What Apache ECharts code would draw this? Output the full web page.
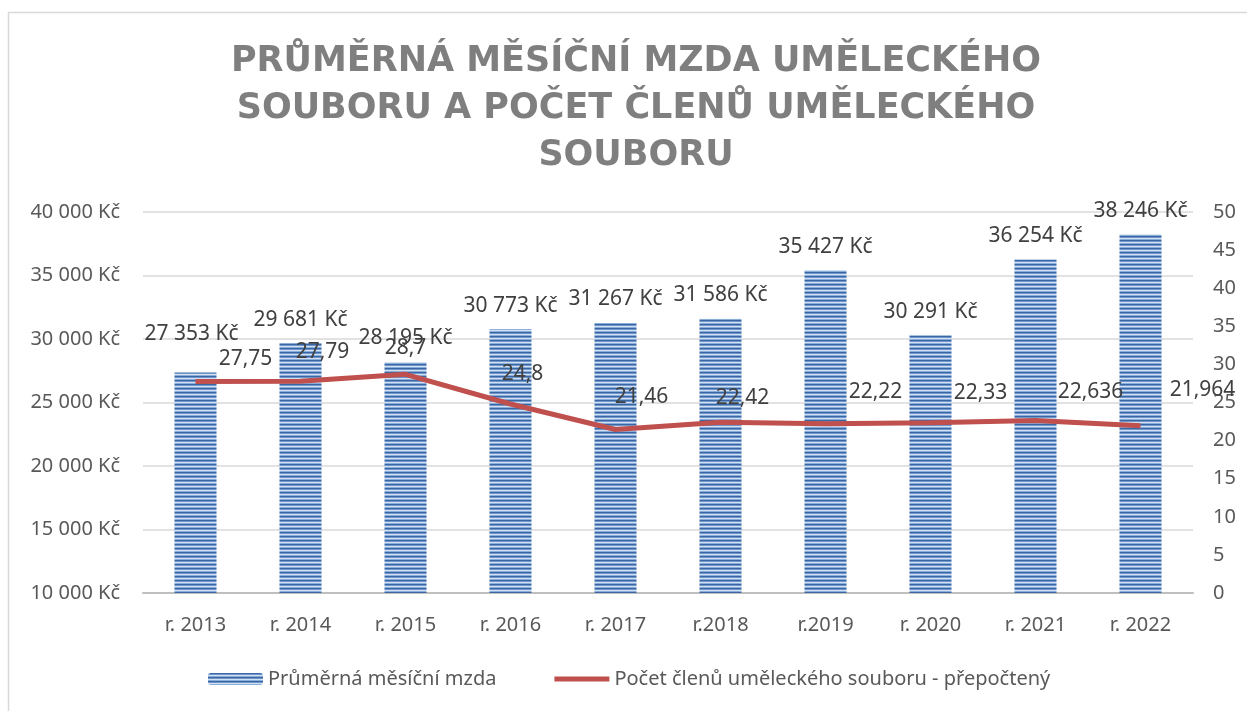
<!DOCTYPE html>
<html>
<head>
<meta charset="utf-8">
<style>
  html, body { margin: 0; padding: 0; background: #fff; }
  #chart { width: 1247px; height: 711px; }
</style>
<script src="https://cdn.jsdelivr.net/npm/echarts@6/dist/echarts.min.js"></script>
</head>
<body>
<div id="chart"></div>
<script>
// data
const years = ['r. 2013', 'r. 2014', 'r. 2015', 'r. 2016', 'r. 2017', 'r.2018', 'r.2019', 'r. 2020', 'r. 2021', 'r. 2022']
const wages = [27353, 29681, 28195, 30773, 31267, 31586, 35427, 30291, 36254, 38246]
const members = [27.75, 27.79, 28.7, 24.8, 21.46, 22.42, 22.22, 22.33, 22.636, 21.964]

// manual label placement (as moved in the original)
const memberLabelOffsets = [[50, -23], [22, -29], [0, -26], [12, -30], [26, -32], [22, -24], [50, -32], [50, -30], [55, -28], [62, -36]]
const wageLabelOffsets = [[-4, -15], [0, 0], [0, 0], [0, 0], [0, 0], [0, 0], [0, 0], [0, 0], [0, 0], [0, 0]]

const font = '"Noto Sans", "Open Sans", sans-serif'

// striped fill like the excel pattern
const pat = document.createElement('canvas')
pat.width = 4
pat.height = 4
const pctx = pat.getContext('2d')
const stripe = ['#3a67a4', '#6f96cb', '#d3e0f1', '#8badd9']
stripe.forEach((c, i) => { pctx.fillStyle = c; pctx.fillRect(0, i, 4, 1) })
const barColor = { image: pat, repeat: 'repeat' }

const kc = v => String(v).replace(/\B(?=(\d{3})+(?!\d))/g, ' ') + ' Kč'
const dec = v => String(v).replace('.', ',')

const chart = echarts.init(document.getElementById('chart'))

chart.setOption({
  animation: false,
  backgroundColor: '#fff',
  textStyle: { fontFamily: font },
  title: {
    text: 'PRŮMĚRNÁ MĚSÍČNÍ MZDA UMĚLECKÉHO\nSOUBORU A POČET ČLENŮ UMĚLECKÉHO\nSOUBORU',
    left: 631,
    top: 33,
    textAlign: 'center',
    textStyle: {
      fontFamily: '"DejaVu Sans", sans-serif',
      fontWeight: 'bold',
      fontSize: 35,
      lineHeight: 47,
      color: '#7f7f7f'
    }
  },
  graphic: [{
    type: 'rect',
    shape: { x: 8.5, y: 12.5, width: 1260, height: 720 },
    style: { fill: 'none', stroke: '#d9d9d9', lineWidth: 1.5 },
    silent: true
  }],
  legend: {
    left: 203,
    top: 664,
    itemGap: 58,
    itemWidth: 55,
    itemHeight: 12,
    textStyle: { fontSize: 20, color: '#595959', fontFamily: font },
    data: [
      { name: 'Průměrná měsíční mzda' },
      { name: 'Počet členů uměleckého souboru - přepočtený', icon: 'path://M0,0H55V5H0Z' }
    ]
  },
  grid: { left: 143, right: 54, top: 212, bottom: 118 },
  xAxis: {
    type: 'category',
    data: years,
    axisLine: { lineStyle: { color: '#bfbfbf', width: 2 } },
    axisTick: { show: false },
    axisLabel: { fontSize: 20, color: '#595959', margin: 22 }
  },
  yAxis: [{
    type: 'value',
    min: 10000,
    max: 40000,
    interval: 5000,
    axisLine: { show: false },
    axisTick: { show: false },
    splitLine: { lineStyle: { color: '#d9d9d9', width: 1.5 } },
    axisLabel: { fontSize: 20, color: '#595959', margin: 23, formatter: kc }
  }, {
    type: 'value',
    min: 0,
    max: 50,
    interval: 5,
    axisLine: { show: false },
    axisTick: { show: false },
    splitLine: { show: false },
    axisLabel: { fontSize: 20, color: '#595959', margin: 20 }
  }],
  series: [{
    name: 'Průměrná měsíční mzda',
    type: 'bar',
    barWidth: 42,
    itemStyle: { color: barColor },
    data: wages.map((v, i) => ({ value: v, label: { offset: wageLabelOffsets[i] } })),
    label: {
      show: true,
      position: 'top',
      distance: 13,
      fontSize: 21,
      color: '#404040',
      formatter: p => kc(p.value)
    }
  }, {
    name: 'Počet členů uměleckého souboru - přepočtený',
    type: 'line',
    yAxisIndex: 1,
    symbol: 'none',
    lineStyle: { color: '#c0504d', width: 5 },
    itemStyle: { color: '#c0504d' },
    data: members
  }, {
    // labels of the line, placed by hand like in the source
    name: 'labels',
    type: 'scatter',
    yAxisIndex: 1,
    symbolSize: 0,
    silent: true,
    itemStyle: { opacity: 1 },
    data: members.map((v, i) => ({ value: v, label: { offset: memberLabelOffsets[i] } })),
    label: {
      show: true,
      position: 'inside',
      fontSize: 21,
      color: '#404040',
      opacity: 1,
      formatter: p => dec(p.value)
    }
  }]
})
</script>
</body>
</html>
